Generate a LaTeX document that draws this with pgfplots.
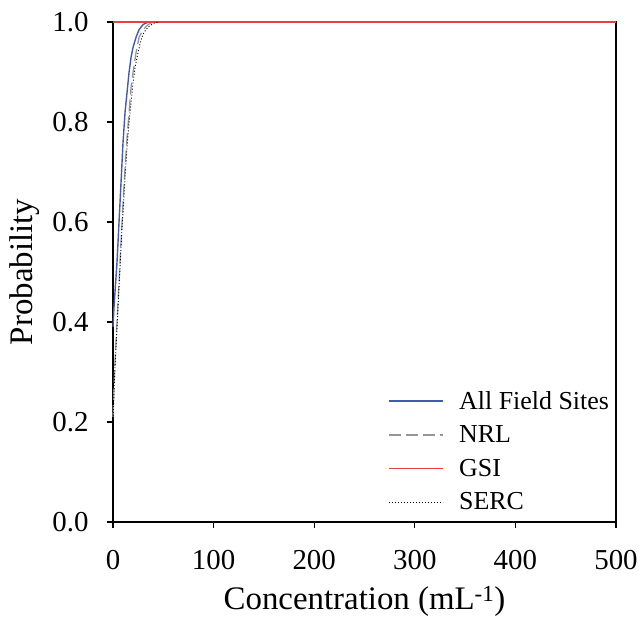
\documentclass[border=0pt]{standalone}
\usepackage{pgfplots}
\pgfplotsset{compat=1.18}
\usepackage{fontspec}
\setmainfont{Liberation Serif}
\definecolor{allblue}{RGB}{68,90,170}
\definecolor{gsired}{RGB}{232,62,72}
\definecolor{nrlgray}{RGB}{150,150,150}
\begin{document}
\begin{tikzpicture}
\begin{axis}[
  at={(0,0)}, anchor=south west,
  scale only axis, width=503bp, height=500bp,
  xmin=0, xmax=500, ymin=0, ymax=1,
  xtick={0,100,...,500}, ytick={0,0.2,...,1.0},
  xtick pos=bottom, ytick pos=left,
  tick align=outside, major tick length=6bp,
  axis line style={line width=1.2bp},
  every tick/.style={black, line width=1.2bp},
  clip=false,
  /pgf/number format/assume math mode=true,
  yticklabel style={/pgf/number format/fixed, /pgf/number format/fixed zerofill, /pgf/number format/precision=1, xshift=-15bp},
  ticklabel style={font=\fontsize{29}{34}\selectfont},
  xticklabel style={yshift=-19bp},
  xlabel={Concentration (mL\textsuperscript{-1})},
  ylabel={Probability},
  every axis x label/.style={at={(axis description cs:0.5,-0.176)}, anchor=base, font=\fontsize{33}{40}\selectfont},
  every axis y label/.style={at={(axis description cs:-0.175,0.5)}, rotate=90, anchor=center, font=\fontsize{33}{40}\selectfont},
  legend cell align=left,
  legend image code/.code={\draw[#1] (0bp,0bp) -- (54bp,0bp);},
  legend style={draw=none, fill=none, at={(axis cs:273,0.266)}, anchor=north west,
    font=\fontsize{26}{31}\selectfont, inner sep=0pt, row sep=11bp,
    nodes={inner sep=2pt},
    /tikz/every odd column/.append style={column sep=14bp}},
]
\addplot[allblue, line width=1.4bp] coordinates {
(0,0.39)(1,0.43)(2,0.46)(3,0.49)(4,0.52)(5,0.56)(6,0.60)(7,0.64)(8,0.68)(9,0.72)(10,0.76)(11,0.79)(12,0.82)(14,0.86)(16,0.90)(18,0.93)(20,0.95)(23,0.97)(26,0.985)(30,0.995)(35,1)(500,1)};
\addlegendentry{All Field Sites}
\addplot[nrlgray, line width=1.3bp, dash pattern=on 12bp off 5bp] coordinates {
(0,0.21)(1,0.27)(2,0.32)(3,0.36)(4,0.40)(5,0.44)(6,0.48)(7,0.52)(8,0.56)(9,0.60)(10,0.64)(12,0.71)(14,0.77)(16,0.82)(18,0.87)(20,0.90)(23,0.94)(26,0.97)(30,0.985)(35,0.995)(40,1)(500,1)};
\addlegendentry{NRL}
\addplot[gsired, line width=1.4bp] coordinates {(0,1)(100,1)(200,1)(300,1)(400,1)(500,1)};
\addlegendentry{GSI}
\addplot[black, line width=0.9bp, dash pattern=on 1bp off 2bp] coordinates {
(0,0.20)(1,0.26)(2,0.31)(3,0.35)(4,0.39)(5,0.43)(6,0.47)(7,0.51)(8,0.55)(9,0.59)(10,0.62)(12,0.69)(14,0.75)(16,0.80)(18,0.84)(20,0.88)(22,0.91)(25,0.94)(28,0.965)(31,0.98)(35,0.99)(40,0.997)(45,1)};
\addlegendentry{SERC}
\end{axis}
\pgfresetboundingbox
\path[use as bounding box] (-113bp,-99bp) rectangle (526bp,522bp);
\end{tikzpicture}
\end{document}
